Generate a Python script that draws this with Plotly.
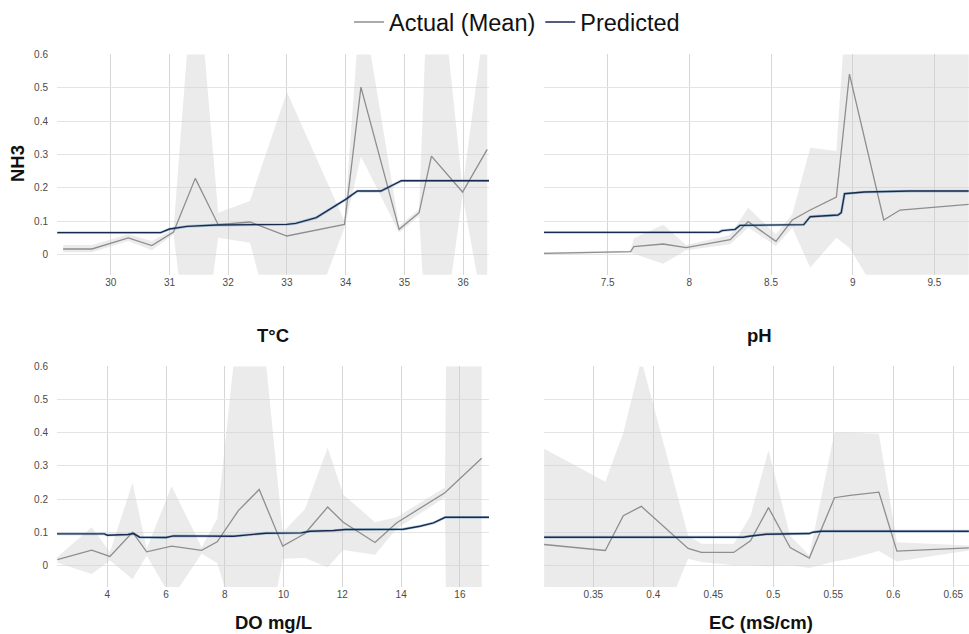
import plotly.graph_objects as go

W, H = 969, 634

# ---------------- data ----------------
# T°C panel
t_x    = [29.19, 29.68, 30.30, 30.70, 31.07, 31.44, 31.83, 32.37, 33.00, 33.98, 34.26, 34.91, 35.25, 35.46, 35.99, 36.41]
t_mean = [0.016, 0.016, 0.049, 0.026, 0.067, 0.228, 0.089, 0.097, 0.055, 0.090, 0.502, 0.075, 0.125, 0.295, 0.187, 0.315]
t_lo   = [0.006, 0.006, 0.040, 0.012, 0.060, -0.47, 0.050, 0.035, -0.38, 0.080, 0.294, 0.065, 0.115, -0.50, 0.175, -0.23]
t_hi   = [0.028, 0.028, 0.060, 0.040, 0.075, 0.93, 0.125, 0.160, 0.487, 0.100, 0.780, 0.085, 0.135, 1.10, 0.200, 0.76]
tp_x   = [29.09, 30.85, 31.00, 31.30, 31.80, 33.00, 33.15, 33.50, 34.00, 34.20, 34.60, 34.95, 36.44]
tp_y   = [0.065, 0.065, 0.076, 0.084, 0.088, 0.090, 0.093, 0.110, 0.165, 0.190, 0.190, 0.221, 0.221]

# pH panel
p_x    = [7.11, 7.64, 7.66, 7.84, 7.98, 8.25, 8.36, 8.53, 8.63, 8.74, 8.90, 8.98, 9.19, 9.29, 9.71]
p_mean = [0.003, 0.008, 0.023, 0.031, 0.020, 0.044, 0.098, 0.039, 0.103, 0.133, 0.172, 0.541, 0.103, 0.133, 0.150]
p_lo   = [0.000, 0.005, 0.000, -0.028, 0.012, 0.030, 0.080, 0.025, 0.080, -0.040, 0.050, 0.020, -0.15, -0.15, -0.15]
p_hi   = [0.006, 0.011, 0.048, 0.089, 0.028, 0.058, 0.140, 0.060, 0.120, 0.320, 0.310, 0.900, 1.20, 1.20, 1.20]
pp_x   = [7.11, 8.18, 8.20, 8.28, 8.31, 8.70, 8.74, 8.91, 8.93, 8.95, 9.07, 9.35, 9.71]
pp_y   = [0.066, 0.066, 0.071, 0.075, 0.087, 0.089, 0.113, 0.118, 0.125, 0.182, 0.187, 0.190, 0.190]

# DO mg/L panel
d_x    = [2.30, 3.47, 4.09, 4.86, 5.34, 6.19, 7.21, 7.74, 8.46, 9.17, 9.97, 10.73, 11.50, 12.03, 13.11, 13.84, 15.49, 15.62, 16.74]
d_mean = [0.017, 0.046, 0.027, 0.100, 0.041, 0.058, 0.045, 0.071, 0.165, 0.229, 0.058, 0.096, 0.176, 0.130, 0.069, 0.128, 0.219, 0.230, 0.323]
d_lo   = [0.008, -0.026, 0.015, -0.042, 0.030, -0.10, 0.035, 0.007, -0.20, -0.36, 0.020, 0.022, -0.006, 0.046, 0.032, 0.110, 0.205, -1.0, -1.0]
d_hi   = [0.025, 0.115, 0.040, 0.249, 0.050, 0.239, 0.055, 0.140, 0.745, 0.820, 0.100, 0.170, 0.355, 0.214, 0.130, 0.145, 0.235, 1.5, 1.5]
dp_x   = [2.29, 3.90, 4.00, 4.70, 4.90, 5.10, 6.00, 6.25, 8.30, 9.00, 9.40, 10.60, 10.90, 11.70, 12.10, 14.07, 14.64, 15.10, 15.50, 16.99]
dp_y   = [0.095, 0.095, 0.091, 0.093, 0.096, 0.085, 0.084, 0.089, 0.088, 0.093, 0.097, 0.098, 0.103, 0.105, 0.108, 0.109, 0.118, 0.128, 0.145, 0.145]

# EC (mS/cm) panel
e_x    = [0.309, 0.360, 0.375, 0.390, 0.429, 0.440, 0.467, 0.481, 0.496, 0.514, 0.530, 0.551, 0.564, 0.588, 0.603, 0.663]
e_mean = [0.063, 0.045, 0.150, 0.178, 0.051, 0.039, 0.039, 0.074, 0.174, 0.054, 0.022, 0.204, 0.211, 0.221, 0.043, 0.053]
e_lo   = [-0.23, -0.16, -0.25, -0.32, 0.020, 0.010, 0.000, 0.000, -0.003, 0.000, -0.008, 0.012, 0.020, 0.043, 0.012, 0.045]
e_hi   = [0.352, 0.252, 0.400, 0.620, 0.090, 0.065, 0.065, 0.150, 0.347, 0.090, 0.030, 0.400, 0.400, 0.397, 0.070, 0.060]
ep_x   = [0.309, 0.475, 0.480, 0.494, 0.530, 0.533, 0.540, 0.663]
ep_y   = [0.085, 0.085, 0.088, 0.094, 0.096, 0.100, 0.103, 0.103]

# tick labels
t_ticks  = [30, 31, 32, 33, 34, 35, 36]
p_ticks  = [7.5, 8, 8.5, 9, 9.5]
d_ticks  = [4, 6, 8, 10, 12, 14, 16]
e_ticks  = [0.35, 0.4, 0.45, 0.5, 0.55, 0.6, 0.65]
y_ticks  = [0, 0.1, 0.2, 0.3, 0.4, 0.5, 0.6]
panel_titles = ["T°C", "pH", "DO mg/L", "EC (mS/cm)"]

# ---------------- styling ----------------
SHADE = "rgba(205,205,205,0.40)"
ACT = "#8e8e8e"
PRED = "#192a50"
HALO = "rgba(60,130,170,0.35)"
FONT = "Liberation Sans, Arial, sans-serif"

panels = [
    (t_x, t_mean, t_lo, t_hi, tp_x, tp_y, "x", "y"),
    (p_x, p_mean, p_lo, p_hi, pp_x, pp_y, "x2", "y2"),
    (d_x, d_mean, d_lo, d_hi, dp_x, dp_y, "x3", "y3"),
    (e_x, e_mean, e_lo, e_hi, ep_x, ep_y, "x4", "y4"),
]

fig = go.Figure()
for i, (x, m, lo, hi, px, py, xa, ya) in enumerate(panels):
    fig.add_trace(go.Scatter(
        x=list(x) + list(x)[::-1], y=list(hi) + list(lo)[::-1],
        fill="toself", fillcolor=SHADE, line=dict(width=0), mode="lines",
        hoverinfo="skip", showlegend=False, xaxis=xa, yaxis=ya))
    fig.add_trace(go.Scatter(
        x=x, y=m, mode="lines", line=dict(color=ACT, width=1.3),
        name="Actual (Mean)", legendgroup="a", showlegend=(i == 0),
        xaxis=xa, yaxis=ya))
    fig.add_trace(go.Scatter(
        x=px, y=py, mode="lines", line=dict(color=HALO, width=2.8),
        showlegend=False, hoverinfo="skip", xaxis=xa, yaxis=ya))
    fig.add_trace(go.Scatter(
        x=px, y=py, mode="lines", line=dict(color=PRED, width=1.4),
        name="Predicted", legendgroup="p", showlegend=(i == 0),
        xaxis=xa, yaxis=ya))

def px2x(p):
    return p / W

def px2y(p):
    return 1 - p / H

left_dom = [px2x(57), px2x(489)]
right_dom = [px2x(544), 1.0]
top_dom = [px2y(267.7), px2y(43.3)]
bot_dom = [px2y(586), px2y(361.3)]

xcommon = dict(showgrid=True, gridcolor="#d6d6d6", gridwidth=1, zeroline=False,
               showline=False, ticks="", tickfont=dict(family=FONT, size=10, color="#4a4a4a"))
ycommon = dict(showgrid=True, gridcolor="#e4e4e4", gridwidth=1, zeroline=False,
               showline=False, ticks="", tickvals=y_ticks,
               tickfont=dict(family=FONT, size=10, color="#4a4a4a"))

fig.update_layout(
    width=W, height=H, margin=dict(l=0, r=0, t=0, b=0),
    paper_bgcolor="white", plot_bgcolor="white",
    font=dict(family=FONT),
    xaxis=dict(domain=left_dom, anchor="y", range=[29.086, 36.44], tickvals=t_ticks, **xcommon),
    xaxis2=dict(domain=right_dom, anchor="y2", range=[7.11, 9.712], tickvals=p_ticks,
                ticktext=["7.5", "8", "8.5", "9", "9.5"], **xcommon),
    xaxis3=dict(domain=left_dom, anchor="y3", range=[2.289, 16.99], tickvals=d_ticks, **xcommon),
    xaxis4=dict(domain=right_dom, anchor="y4", range=[0.3089, 0.6631], tickvals=e_ticks,
                ticktext=["0.35", "0.4", "0.45", "0.5", "0.55", "0.6", "0.65"], **xcommon),
    yaxis=dict(domain=top_dom, anchor="x", range=[-0.061, 0.6], ticklabelstandoff=8, **ycommon),
    yaxis2=dict(domain=top_dom, anchor="x2", range=[-0.061, 0.6], showticklabels=False, **ycommon),
    yaxis3=dict(domain=bot_dom, anchor="x3", range=[-0.065, 0.6], ticklabelstandoff=8, **ycommon),
    yaxis4=dict(domain=bot_dom, anchor="x4", range=[-0.065, 0.6], showticklabels=False, **ycommon),
    legend=dict(orientation="h", x=px2x(349), xanchor="left", y=1 + 12 / H, yanchor="top",
                font=dict(family=FONT, size=23.5, color="#111111"),
                bgcolor="rgba(0,0,0,0)", itemwidth=30, tracegroupgap=0),
)

title_font = dict(family=FONT, size=18.5, color="#111111")
ann = [
    dict(text="<b>NH3</b>", x=px2x(17), y=px2y(155), textangle=-90),
    dict(text="<b>" + panel_titles[0] + "</b>", x=px2x(273), y=px2y(330)),
    dict(text="<b>" + panel_titles[1] + "</b>", x=px2x(759), y=px2y(330)),
    dict(text="<b>" + panel_titles[2] + "</b>", x=px2x(273), y=px2y(622)),
    dict(text="<b>" + panel_titles[3] + "</b>", x=px2x(761), y=px2y(622)),
]
for a in ann:
    a.update(xref="paper", yref="paper", showarrow=False, font=title_font,
             xanchor="center", yanchor="middle")
fig.update_layout(annotations=ann)

fig.write_html("out.html")
